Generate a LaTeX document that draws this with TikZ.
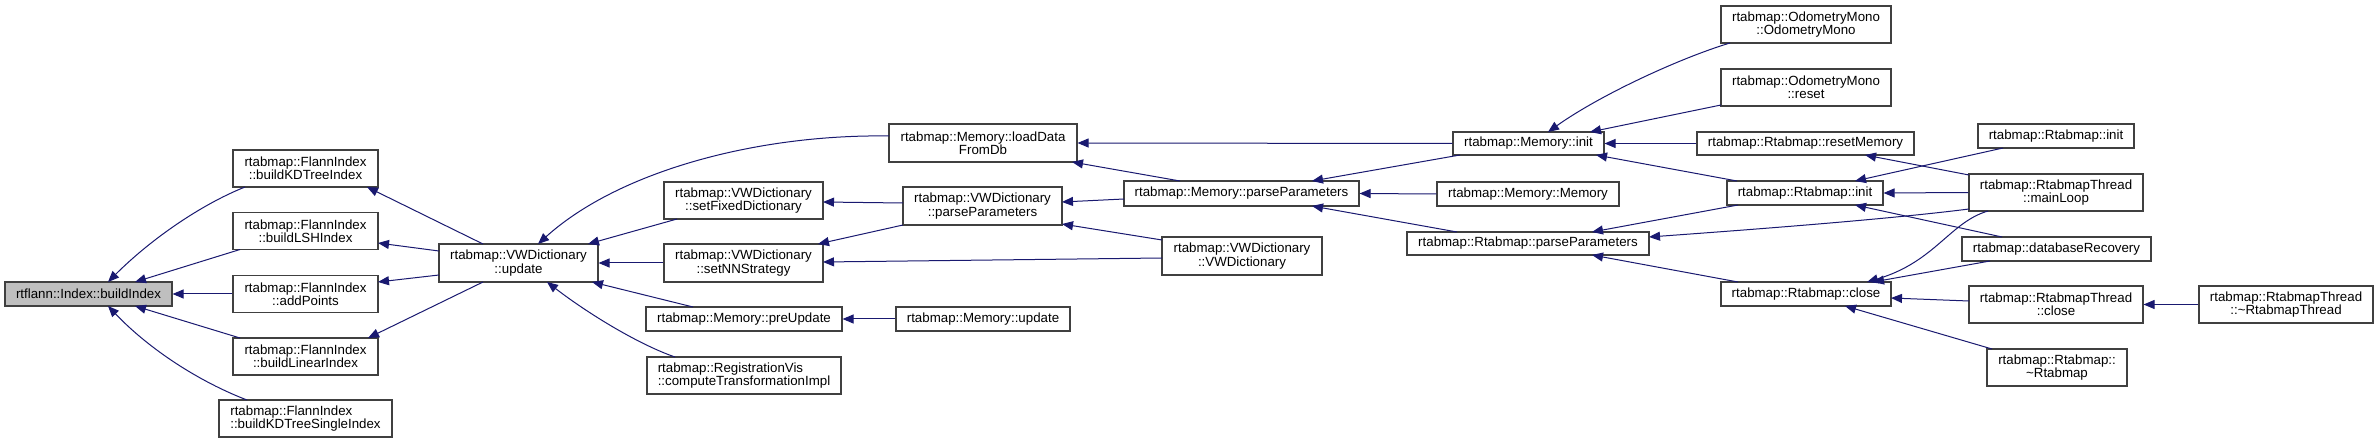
\documentclass[tikz,border=0pt]{standalone}
\usepackage{fontspec}
\newfontfamily\nf{Liberation Sans}
\usetikzlibrary{arrows.meta,calc}
\definecolor{edgec}{HTML}{191970}
\definecolor{boxc}{HTML}{404040}
\definecolor{fillg}{HTML}{BFBFBF}
\newcommand\rp[3]{($(#1)+(#2,#3)$)}
\begin{document}
\begin{tikzpicture}[x=1bp,y=-1bp,
  box/.style={draw=boxc,fill=white,line width=1.1bp,inner sep=0pt,align=center,
    font=\nf\fontsize{13.35}{13.4}\selectfont},
  boxl/.style={box,align=left},
  edge/.style={draw=edgec,line width=1bp,-{Triangle[length=11bp,width=9bp]}}]
\fill[white] (0,0) rectangle (2379,444);
\useasboundingbox (0,0) rectangle (2379,444);
% nodes
\node[box,fill=fillg,minimum width=167bp,minimum height=24bp] (bi) at (88.5,294) {rtflann::Index::buildIndex};
\node[box,minimum width=145bp,minimum height=37bp] (kd) at (305.5,168.5) {rtabmap::FlannIndex\\::buildKDTreeIndex};
\node[box,minimum width=145bp,minimum height=37bp] (lsh) at (305.5,231) {rtabmap::FlannIndex\\::buildLSHIndex};
\node[box,minimum width=145bp,minimum height=37bp] (ap) at (305.5,294) {rtabmap::FlannIndex\\::addPoints};
\node[box,minimum width=145bp,minimum height=37bp] (lin) at (305.5,356.5) {rtabmap::FlannIndex\\::buildLinearIndex};
\node[boxl,minimum width=173bp,minimum height=37bp] (kds) at (305.5,418.5) {rtabmap::FlannIndex\\::buildKDTreeSingleIndex};
\node[box,minimum width=159bp,minimum height=38bp] (vwu) at (518.5,263) {rtabmap::VWDictionary\\::update};
\node[box,minimum width=188bp,minimum height=38bp] (ldb) at (983,143) {rtabmap::Memory::loadData\\FromDb};
\node[box,minimum width=159bp,minimum height=37bp] (sfd) at (743.5,200.5) {rtabmap::VWDictionary\\::setFixedDictionary};
\node[box,minimum width=159bp,minimum height=38bp] (nns) at (743.5,263) {rtabmap::VWDictionary\\::setNNStrategy};
\node[box,minimum width=196bp,minimum height=24bp] (pre) at (744,319) {rtabmap::Memory::preUpdate};
\node[boxl,minimum width=194bp,minimum height=37bp] (reg) at (744,375.5) {rtabmap::RegistrationVis\\::computeTransformationImpl};
\node[box,minimum width=159bp,minimum height=38bp] (vwp) at (982.5,206) {rtabmap::VWDictionary\\::parseParameters};
\node[box,minimum width=235bp,minimum height=25bp] (mpp) at (1241.5,193.5) {rtabmap::Memory::parseParameters};
\node[box,minimum width=160bp,minimum height=38bp] (vwc) at (1242,256) {rtabmap::VWDictionary\\::VWDictionary};
\node[box,minimum width=174bp,minimum height=24bp] (mup) at (983,319) {rtabmap::Memory::update};
\node[box,minimum width=151bp,minimum height=23bp] (mi) at (1528.5,143.5) {rtabmap::Memory::init};
\node[box,minimum width=182bp,minimum height=24bp] (mm) at (1528,194) {rtabmap::Memory::Memory};
\node[box,minimum width=242bp,minimum height=23bp] (rpp) at (1528,243.5) {rtabmap::Rtabmap::parseParameters};
\node[box,minimum width=170bp,minimum height=37bp] (om) at (1806,24.5) {rtabmap::OdometryMono\\::OdometryMono};
\node[box,minimum width=170bp,minimum height=37bp] (omr) at (1806,87.5) {rtabmap::OdometryMono\\::reset};
\node[box,minimum width=217bp,minimum height=23bp] (rm) at (1805.5,143.5) {rtabmap::Rtabmap::resetMemory};
\node[box,minimum width=156bp,minimum height=24bp] (ri) at (1805,193) {rtabmap::Rtabmap::init};
\node[box,minimum width=170bp,minimum height=24bp] (rc) at (1806,294) {rtabmap::Rtabmap::close};
\node[box,minimum width=156bp,minimum height=24bp] (ri2) at (2056,136) {rtabmap::Rtabmap::init};
\node[box,minimum width=174bp,minimum height=37bp] (ml) at (2056,192.5) {rtabmap::RtabmapThread\\::mainLoop};
\node[box,minimum width=189bp,minimum height=24bp] (dr) at (2056.5,249) {rtabmap::databaseRecovery};
\node[box,minimum width=174bp,minimum height=37bp] (rtc) at (2056,304.5) {rtabmap::RtabmapThread\\::close};
\node[box,minimum width=174bp,minimum height=37bp] (rtd) at (2286,304.5) {rtabmap::RtabmapThread\\::\textasciitilde RtabmapThread};
\node[box,minimum width=140bp,minimum height=37bp] (rd) at (2057,367.5) {rtabmap::Rtabmap::\\\textasciitilde Rtabmap};
% edges
\draw[edge] \rp{kd}{-60.5}{18.5} .. controls (200,205) and (150,240) .. \rp{bi}{19.5}{-12};
\draw[edge] \rp{lsh}{-65.5}{18.5} -- \rp{bi}{46.5}{-12};
\draw[edge] (ap.west) -- (bi.east);
\draw[edge] \rp{lin}{-65.5}{-18.5} -- \rp{bi}{46.5}{12};
\draw[edge] \rp{kds}{-58.5}{-18.5} .. controls (200,382) and (150,350) .. \rp{bi}{19.5}{12};
\draw[edge] \rp{vwu}{-35.5}{-19} -- \rp{kd}{61.5}{18.5};
\draw[edge] \rp{vwu}{-79.5}{-12} -- \rp{lsh}{72.5}{12};
\draw[edge] \rp{vwu}{-79.5}{12} -- \rp{ap}{72.5}{-12};
\draw[edge] \rp{vwu}{-35.5}{19} -- \rp{lin}{62.5}{-18.5};
\draw[edge] \rp{ldb}{-94}{-7} .. controls (760,134) and (620,170) .. \rp{vwu}{19.5}{-19};
\draw[edge] \rp{sfd}{-66.5}{18.5} -- \rp{vwu}{69.5}{-19};
\draw[edge] (nns.west) -- (vwu.east);
\draw[edge] \rp{pre}{-51}{-12} -- \rp{vwu}{73.5}{19};
\draw[edge] \rp{reg}{-69}{-18.5} .. controls (640,345) and (590,315) .. \rp{vwu}{28.5}{19};
\draw[edge] \rp{vwp}{-79.5}{-3} -- \rp{sfd}{79.5}{1.5};
\draw[edge] \rp{vwp}{-79.5}{19} -- \rp{nns}{74.5}{-19};
\draw[edge] \rp{vwc}{-80}{2} -- \rp{nns}{79.5}{-1};
\draw[edge] (mup.west) -- (pre.east);
\draw[edge] (mi.west) -- (ldb.east);
\draw[edge] \rp{mpp}{-61.5}{-12.5} -- \rp{ldb}{89}{19};
\draw[edge] \rp{mpp}{-117.5}{5.5} -- \rp{vwp}{79.5}{-4};
\draw[edge] \rp{vwc}{-80}{-16} -- \rp{vwp}{79.5}{18};
\draw[edge] \rp{mi}{-68.5}{11.5} -- \rp{mpp}{70.5}{-12.5};
\draw[edge] (mm.west) -- (mpp.east);
\draw[edge] \rp{rpp}{-71}{-11.5} -- \rp{mpp}{70.5}{12.5};
\draw[edge] \rp{om}{-76}{18.5} .. controls (1680,58) and (1600,95) .. \rp{mi}{19.5}{-11.5};
\draw[edge] \rp{omr}{-85}{17.5} -- \rp{mi}{61.5}{-11.5};
\draw[edge] (rm.west) -- (mi.east);
\draw[edge] \rp{ri}{-68}{-12} -- \rp{mi}{67.5}{11.5};
\draw[edge] \rp{ri2}{-53}{12} -- \rp{ri}{50}{-12};
\draw[edge] (ml.west) -- (ri.east);
\draw[edge] \rp{dr}{-54.5}{-12} -- \rp{ri}{50}{12};
\draw[edge] \rp{ml}{-87}{-17.5} -- \rp{rm}{59.5}{11.5};
\draw[edge] \rp{ri}{-67}{12} -- \rp{rpp}{64}{-11.5};
\draw[edge] \rp{ml}{-87}{16.5} .. controls (1890,219) and (1760,229) .. \rp{rpp}{121}{-6.5};
\draw[edge] \rp{rc}{-68}{-12} -- \rp{rpp}{64}{11.5};
\draw[edge] \rp{ml}{-68}{18.5} .. controls (1950,222) and (1935,262) .. \rp{rc}{61}{-12};
\draw[edge] \rp{dr}{-66.5}{12} -- \rp{rc}{67}{-12};
\draw[edge] \rp{rtc}{-87}{-3.5} -- \rp{rc}{85}{4};
\draw[edge] \rp{rd}{-65}{-18.5} -- \rp{rc}{39}{12};
\draw[edge] (rtd.west) -- (rtc.east);
\end{tikzpicture}
\end{document}
